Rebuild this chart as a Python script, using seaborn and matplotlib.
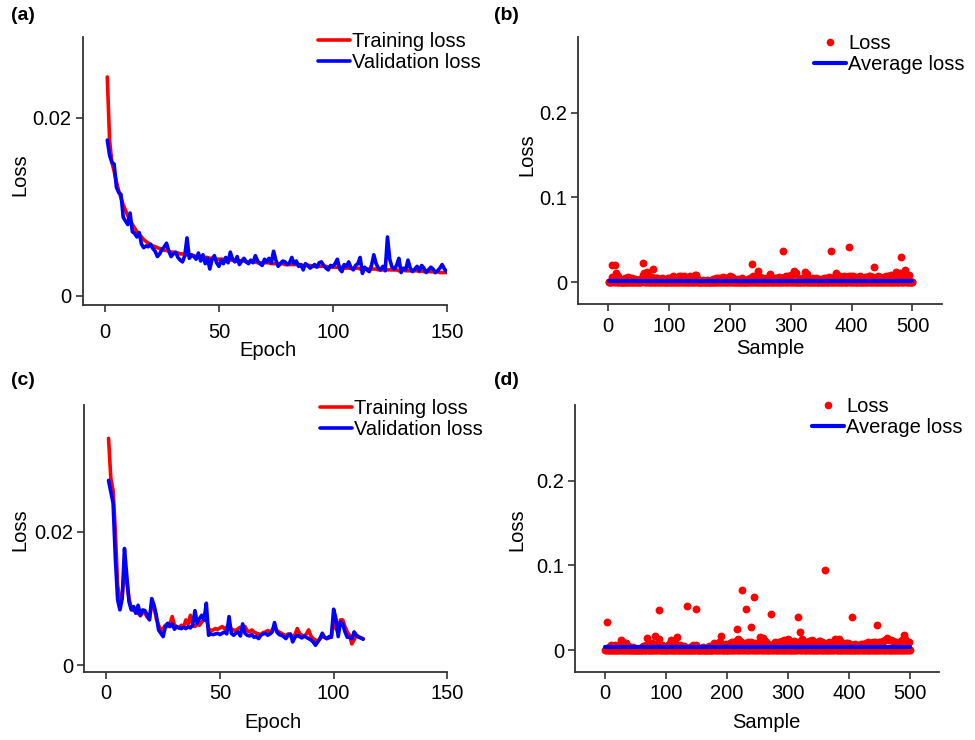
import numpy as np
import pandas as pd
import matplotlib
matplotlib.use("Agg")
import matplotlib.pyplot as plt
from matplotlib.lines import Line2D
import seaborn as sns

sns.set_theme(style="ticks")
plt.rcParams['font.family'] = ['Liberation Sans', 'DejaVu Sans']
plt.rcParams['text.color'] = 'black'
plt.rcParams['axes.labelcolor'] = 'black'

# ---------------- data ----------------
TRAIN_A = [
    0.0246, 0.0175, 0.0150, 0.0140, 0.0128, 0.0118, 0.0110, 0.0102, 0.0096, 0.0090,
    0.0084, 0.0080, 0.0076, 0.0072, 0.0069, 0.0066, 0.0063, 0.0061, 0.0059, 0.0057,
    0.0056, 0.0055, 0.0054, 0.0053, 0.0052, 0.0051, 0.0051, 0.0050, 0.0049, 0.0049,
    0.0048, 0.0048, 0.0047, 0.0047, 0.0046, 0.0046, 0.0046, 0.0045, 0.0045, 0.0044,
    0.0044, 0.0044, 0.0043, 0.0043, 0.0043, 0.0042, 0.0042, 0.0042, 0.0041, 0.0041,
    0.0041, 0.0041, 0.0040, 0.0040, 0.0040, 0.0040, 0.0039, 0.0039, 0.0039, 0.0039,
    0.0039, 0.0038, 0.0038, 0.0038, 0.0038, 0.0038, 0.0037, 0.0037, 0.0037, 0.0037,
    0.0037, 0.0037, 0.0036, 0.0036, 0.0036, 0.0036, 0.0036, 0.0036, 0.0035, 0.0035,
    0.0035, 0.0035, 0.0035, 0.0035, 0.0034, 0.0034, 0.0034, 0.0034, 0.0034, 0.0034,
    0.0033, 0.0033, 0.0033, 0.0033, 0.0033, 0.0033, 0.0033, 0.0032, 0.0032, 0.0032,
    0.0032, 0.0032, 0.0032, 0.0032, 0.0031, 0.0031, 0.0031, 0.0031, 0.0031, 0.0031,
    0.0031, 0.0030, 0.0030, 0.0030, 0.0030, 0.0030, 0.0030, 0.0030, 0.0030, 0.0029,
    0.0029, 0.0029, 0.0029, 0.0029, 0.0029, 0.0029, 0.0029, 0.0029, 0.0028, 0.0029,
    0.0029, 0.0028, 0.0028, 0.0028, 0.0028, 0.0028, 0.0028, 0.0027, 0.0028, 0.0027,
    0.0027, 0.0027, 0.0027, 0.0027, 0.0026, 0.0027, 0.0026, 0.0026, 0.0026, 0.0026,
]
VAL_A = [
    0.0175, 0.0158, 0.0150, 0.0148, 0.0122, 0.0116, 0.0114, 0.0088, 0.0084, 0.0080,
    0.0093, 0.0072, 0.0070, 0.0066, 0.0071, 0.0058, 0.0054, 0.0056, 0.0055, 0.0058,
    0.0053, 0.0050, 0.0044, 0.0047, 0.0052, 0.0055, 0.0059, 0.0050, 0.0044, 0.0047,
    0.0049, 0.0043, 0.0040, 0.0038, 0.0045, 0.0065, 0.0042, 0.0046, 0.0044, 0.0041,
    0.0048, 0.0039, 0.0046, 0.0036, 0.0042, 0.0030, 0.0041, 0.0045, 0.0037, 0.0033,
    0.0040, 0.0036, 0.0043, 0.0037, 0.0049, 0.0041, 0.0038, 0.0044, 0.0035, 0.0039,
    0.0042, 0.0038, 0.0036, 0.0040, 0.0037, 0.0045, 0.0039, 0.0036, 0.0034, 0.0041,
    0.0038, 0.0042, 0.0037, 0.0050, 0.0040, 0.0033, 0.0036, 0.0039, 0.0038, 0.0035,
    0.0037, 0.0043, 0.0036, 0.0039, 0.0033, 0.0035, 0.0029, 0.0036, 0.0034, 0.0031,
    0.0033, 0.0035, 0.0032, 0.0037, 0.0038, 0.0034, 0.0031, 0.0029, 0.0034, 0.0033,
    0.0036, 0.0041, 0.0030, 0.0027, 0.0035, 0.0033, 0.0038, 0.0031, 0.0029, 0.0034,
    0.0036, 0.0043, 0.0025, 0.0032, 0.0029, 0.0027, 0.0034, 0.0046, 0.0036, 0.0031,
    0.0029, 0.0033, 0.0028, 0.0066, 0.0041, 0.0032, 0.0030, 0.0034, 0.0042, 0.0026,
    0.0031, 0.0029, 0.0040, 0.0031, 0.0027, 0.0030, 0.0033, 0.0028, 0.0034, 0.0031,
    0.0026, 0.0029, 0.0032, 0.0030, 0.0026, 0.0028, 0.0031, 0.0035, 0.0030, 0.0027,
]
TRAIN_C = [
    0.0340, 0.0280, 0.0262, 0.0200, 0.0120, 0.0095, 0.0105, 0.0140, 0.0125, 0.0100,
    0.0085, 0.0082, 0.0085, 0.0078, 0.0074, 0.0080, 0.0078, 0.0072, 0.0070, 0.0092,
    0.0088, 0.0070, 0.0060, 0.0052, 0.0055, 0.0060, 0.0058, 0.0062, 0.0073, 0.0060,
    0.0058, 0.0056, 0.0060, 0.0057, 0.0068, 0.0062, 0.0075, 0.0060, 0.0058, 0.0062,
    0.0060, 0.0065, 0.0068, 0.0070, 0.0055, 0.0052, 0.0053, 0.0055, 0.0054, 0.0056,
    0.0058, 0.0055, 0.0057, 0.0062, 0.0054, 0.0053, 0.0052, 0.0055, 0.0057, 0.0056,
    0.0058, 0.0052, 0.0050, 0.0053, 0.0050, 0.0048, 0.0047, 0.0046, 0.0049, 0.0050,
    0.0052, 0.0050, 0.0053, 0.0058, 0.0052, 0.0050, 0.0048, 0.0046, 0.0044, 0.0047,
    0.0045, 0.0043, 0.0046, 0.0055, 0.0048, 0.0045, 0.0043, 0.0047, 0.0053, 0.0044,
    0.0040, 0.0038, 0.0036, 0.0040, 0.0043, 0.0042, 0.0040, 0.0041, 0.0043, 0.0070,
    0.0055, 0.0050, 0.0068, 0.0068, 0.0058, 0.0050, 0.0045, 0.0032, 0.0038, 0.0045,
    0.0043, 0.0041, 0.0040,
]
VAL_C = [
    0.0277, 0.0260, 0.0243, 0.0160, 0.0098, 0.0083, 0.0100, 0.0175, 0.0135, 0.0095,
    0.0083, 0.0088, 0.0078, 0.0090, 0.0075, 0.0083, 0.0082, 0.0075, 0.0068, 0.0100,
    0.0090, 0.0075, 0.0053, 0.0048, 0.0043, 0.0058, 0.0063, 0.0058, 0.0062, 0.0054,
    0.0058, 0.0056, 0.0055, 0.0057, 0.0055, 0.0058, 0.0056, 0.0060, 0.0082, 0.0063,
    0.0070, 0.0075, 0.0068, 0.0093, 0.0045, 0.0047, 0.0046, 0.0047, 0.0048, 0.0046,
    0.0048, 0.0050, 0.0047, 0.0073, 0.0048, 0.0045, 0.0048, 0.0050, 0.0044, 0.0062,
    0.0048, 0.0045, 0.0044, 0.0046, 0.0042, 0.0043, 0.0040, 0.0045, 0.0047, 0.0048,
    0.0045, 0.0047, 0.0050, 0.0064, 0.0050, 0.0046, 0.0045, 0.0043, 0.0040, 0.0045,
    0.0047, 0.0035, 0.0042, 0.0045, 0.0043, 0.0041, 0.0044, 0.0042, 0.0040, 0.0038,
    0.0035, 0.0030, 0.0035, 0.0040, 0.0048, 0.0042, 0.0040, 0.0043, 0.0042, 0.0084,
    0.0070, 0.0043, 0.0065, 0.0062, 0.0050, 0.0042, 0.0042, 0.0040, 0.0050, 0.0045,
    0.0042, 0.0041, 0.0039,
]

# per-sample loss, in units of 1e-4 (samples 1..500)
LOSS_B_E4 = [
    0, 2, 1, 5, 3, 60, 204, 40, 2, 1, 200, 30, 106, 8, 3, 70, 2, 1, 35, 4, 1, 0, 2, 5, 3,
    2, 1, 50, 3, 4, 1, 60, 2, 1, 0, 45, 3, 2, 55, 1, 2, 3, 0, 40, 2, 1, 30, 2, 3, 1,
    2, 35, 1, 3, 40, 2, 90, 224, 110, 3, 1, 0, 50, 125, 2, 3, 70, 1, 2, 4, 0, 60, 157, 2, 1,
    3, 2, 45, 1, 0, 55, 3, 2, 40, 1, 2, 3, 50, 1, 0, 2, 35, 4, 1, 2, 0, 3, 45, 2, 1,
    2, 55, 3, 1, 0, 70, 2, 3, 60, 1, 4, 2, 55, 1, 0, 80, 2, 3, 75, 1, 0, 50, 2, 3, 70,
    1, 2, 60, 3, 0, 45, 2, 1, 70, 3, 0, 2, 55, 1, 3, 4, 90, 2, 85, 1, 0, 40, 2, 1, 3,
    2, 1, 3, 0, 2, 30, 1, 3, 2, 0, 1, 25, 2, 3, 1, 0, 2, 3, 1, 0, 2, 40, 1, 3, 2,
    0, 45, 2, 1, 50, 3, 0, 55, 2, 1, 40, 3, 2, 60, 1, 0, 45, 2, 3, 50, 1, 0, 65, 2, 3,
    75, 1, 2, 60, 3, 0, 2, 40, 1, 3, 2, 0, 35, 1, 2, 3, 1, 0, 2, 45, 1, 3, 2, 0, 1,
    2, 3, 1, 40, 0, 2, 1, 50, 3, 2, 212, 1, 70, 2, 0, 3, 55, 1, 2, 4, 137, 2, 0, 60, 1,
    3, 2, 1, 0, 50, 2, 3, 1, 45, 0, 2, 1, 3, 55, 2, 94, 0, 1, 40, 3, 2, 1, 0, 50, 2,
    3, 1, 45, 2, 0, 60, 3, 1, 55, 2, 0, 369, 1, 65, 3, 2, 75, 1, 0, 70, 2, 3, 80, 1, 2,
    90, 0, 3, 100, 2, 133, 1, 110, 0, 2, 3, 1, 40, 2, 0, 3, 1, 2, 50, 3, 0, 2, 60, 125, 1,
    95, 2, 0, 3, 1, 2, 40, 3, 1, 0, 2, 50, 1, 3, 0, 2, 45, 1, 3, 2, 0, 1, 35, 2, 3,
    1, 0, 2, 45, 3, 1, 0, 55, 2, 1, 3, 0, 60, 2, 1, 369, 3, 0, 50, 2, 1, 3, 80, 0, 113,
    2, 1, 60, 3, 0, 70, 2, 1, 65, 3, 0, 2, 75, 1, 3, 0, 60, 2, 1, 80, 420, 1, 3, 70, 2,
    0, 75, 1, 3, 2, 65, 0, 1, 2, 60, 3, 1, 0, 70, 2, 1, 3, 55, 2, 0, 1, 60, 3, 2, 65,
    1, 0, 80, 2, 3, 70, 1, 0, 2, 65, 177, 3, 1, 0, 55, 2, 3, 1, 70, 0, 2, 60, 1, 3, 50,
    2, 0, 65, 3, 1, 70, 2, 0, 75, 1, 3, 80, 2, 0, 90, 1, 3, 70, 2, 0, 85, 1, 121, 3, 0,
    2, 70, 1, 3, 110, 302, 2, 0, 60, 1, 3, 80, 145, 2, 100, 0, 3, 1, 90, 2, 0, 1, 3, 2, 1,
]
LOSS_D_E4 = [
    0, 3, 2, 334, 1, 40, 2, 0, 3, 55, 1, 2, 0, 45, 3, 1, 60, 2, 0, 3, 50, 1, 2, 70, 3,
    118, 2, 0, 90, 3, 1, 60, 2, 0, 78, 3, 1, 50, 2, 0, 40, 3, 1, 2, 0, 35, 1, 3, 2, 0,
    2, 1, 3, 0, 2, 1, 30, 3, 0, 2, 1, 45, 3, 0, 2, 1, 60, 3, 138, 2, 0, 50, 1, 3, 2,
    0, 80, 2, 1, 3, 60, 165, 2, 0, 70, 3, 1, 470, 130, 2, 0, 3, 1, 55, 2, 0, 3, 1, 40, 2,
    1, 3, 0, 60, 2, 1, 80, 118, 3, 0, 2, 1, 100, 3, 2, 70, 0, 1, 153, 3, 2, 0, 60, 1, 3,
    2, 0, 1, 3, 50, 2, 1, 0, 518, 3, 2, 1, 0, 40, 2, 3, 1, 0, 55, 2, 3, 1, 0, 60, 487,
    2, 1, 3, 0, 2, 1, 30, 3, 0, 2, 40, 1, 3, 2, 0, 1, 3, 2, 0, 1, 45, 3, 2, 0, 1,
    3, 2, 60, 80, 1, 70, 3, 0, 65, 2, 1, 90, 3, 0, 85, 165, 2, 1, 0, 60, 3, 1, 70, 2, 0,
    1, 3, 60, 2, 0, 80, 1, 3, 90, 2, 70, 1, 100, 3, 110, 251, 2, 125, 1, 0, 3, 110, 2, 90, 706,
    1, 3, 60, 2, 80, 487, 1, 0, 90, 3, 2, 70, 1, 100, 275, 3, 60, 2, 624, 1, 80, 3, 0, 70, 2,
    1, 90, 3, 100, 153, 2, 0, 80, 3, 140, 1, 110, 2, 0, 90, 3, 1, 70, 2, 0, 60, 424, 3, 1, 50,
    2, 70, 1, 90, 3, 0, 80, 2, 1, 100, 3, 0, 90, 2, 110, 1, 3, 120, 2, 0, 100, 3, 1, 110, 2,
    125, 3, 0, 90, 2, 1, 100, 3, 0, 110, 2, 1, 90, 3, 0, 80, 388, 2, 100, 216, 1, 3, 130, 0, 110,
    2, 90, 1, 3, 100, 0, 2, 80, 1, 110, 3, 0, 90, 2, 118, 1, 3, 100, 0, 2, 80, 1, 3, 90, 2,
    0, 110, 110, 3, 1, 90, 2, 0, 80, 3, 941, 2, 1, 70, 3, 0, 94, 2, 1, 80, 3, 0, 70, 2, 90,
    1, 110, 133, 3, 0, 120, 2, 1, 133, 3, 0, 90, 2, 1, 80, 3, 0, 70, 2, 1, 80, 3, 86, 2, 0,
    1, 70, 3, 2, 392, 0, 60, 1, 3, 70, 2, 0, 60, 1, 3, 50, 2, 1, 60, 75, 3, 0, 70, 2, 1,
    60, 3, 0, 80, 2, 1, 90, 3, 0, 70, 2, 1, 80, 3, 94, 0, 2, 90, 1, 3, 294, 2, 0, 100, 1,
    3, 90, 2, 75, 1, 110, 0, 3, 120, 2, 1, 130, 138, 0, 3, 120, 2, 1, 118, 3, 0, 110, 2, 100, 1,
    3, 90, 0, 2, 86, 1, 100, 3, 0, 110, 2, 1, 120, 3, 176, 0, 2, 130, 106, 1, 3, 100, 2, 90, 1,
]
AVG_LOSS_B = 0.0019
AVG_LOSS_D = 0.0035

LINE_LABELS = ["Training loss", "Validation loss"]
SCAT_LABELS = ["Loss", "Average loss"]
PANEL_LABELS = ["(a)", "(b)", "(c)", "(d)"]

# ---------------- frames ----------------
def curve_frame(train, val):
    ep = np.arange(1, len(train) + 1)
    return pd.DataFrame({
        "Epoch": np.concatenate([ep, ep]),
        "Loss": np.concatenate([train, val]),
        "kind": [LINE_LABELS[0]] * len(train) + [LINE_LABELS[1]] * len(val),
    })

df_a = curve_frame(TRAIN_A, VAL_A)
df_c = curve_frame(TRAIN_C, VAL_C)
samples = np.arange(1, 501)
df_b = pd.DataFrame({"Sample": samples, "Loss": np.array(LOSS_B_E4) * 1e-4})
df_d = pd.DataFrame({"Sample": samples, "Loss": np.array(LOSS_D_E4) * 1e-4})
avg_b = pd.DataFrame({"Sample": samples, "Loss": np.full(500, AVG_LOSS_B)})
avg_d = pd.DataFrame({"Sample": samples, "Loss": np.full(500, AVG_LOSS_D)})

RED = "#ff0000"
BLUE = "#0000ff"
SPINE = "#333333"
FS = 14.5

W, H = 975, 740
fig = plt.figure(figsize=(W / 100, H / 100), dpi=100)

def frac(l, t, r, b):
    return [l / W, 1 - b / H, (r - l) / W, (b - t) / H]

ax_a = fig.add_axes(frac(82.7, 37, 446.7, 305))
ax_b = fig.add_axes(frac(578.3, 36.7, 941.7, 304))
ax_c = fig.add_axes(frac(84, 405, 447.3, 671.7))
ax_d = fig.add_axes(frac(575, 405, 939, 671.7))

pal = {LINE_LABELS[0]: RED, LINE_LABELS[1]: BLUE}
for ax, df in ((ax_a, df_a), (ax_c, df_c)):
    sns.lineplot(data=df, x="Epoch", y="Loss", hue="kind", palette=pal,
                 linewidth=2.6, ax=ax, legend=False)
    ax.set_xlim(-9.8, 150)
    ax.set_xticks([0, 50, 100, 150])
    ax.set_xticklabels(["0", "50", "100", "150"])
    ax.set_yticks([0, 0.02])
    ax.set_yticklabels(["0", "0.02"])
ax_a.set_ylim(-0.00105, 0.0291)
ax_c.set_ylim(-0.00096, 0.039)

for ax, df, av in ((ax_b, df_b, avg_b), (ax_d, df_d, avg_d)):
    sns.scatterplot(data=df, x="Sample", y="Loss", color=RED, s=32,
                    linewidth=0, ax=ax, zorder=2, legend=False)
    sns.lineplot(data=av, x="Sample", y="Loss", color=BLUE, linewidth=3,
                 ax=ax, zorder=3, legend=False)
    ax.set_xlim(-49, 548)
    ax.set_xticks([0, 100, 200, 300, 400, 500])
    ax.set_xticklabels(["0", "100", "200", "300", "400", "500"])
    ax.set_yticks([0, 0.1, 0.2])
    ax.set_yticklabels(["0", "0.1", "0.2"])
    ax.set_ylim(-0.0256, 0.2896)

for ax in (ax_a, ax_b, ax_c, ax_d):
    sns.despine(ax=ax)
    for s in ("left", "bottom"):
        ax.spines[s].set_color(SPINE)
        ax.spines[s].set_linewidth(1.3)
    ax.tick_params(axis="both", direction="out", length=5, width=1.2,
                   color=SPINE, labelsize=FS, labelcolor="black")
    ax.tick_params(axis="y", pad=3)
    ax.set_facecolor("white")

ax_a.tick_params(axis="x", pad=8)
ax_b.tick_params(axis="x", pad=4)
ax_c.tick_params(axis="x", pad=4)
ax_d.tick_params(axis="x", pad=4)

# axis labels
xlab = {ax_a: ("Epoch", 0.509, -0.168), ax_b: ("Sample", 0.528, -0.165),
        ax_c: ("Epoch", 0.52, -0.189), ax_d: ("Sample", 0.527, -0.189)}
ylab = {ax_a: (-0.172, 0.485), ax_b: (-0.141, 0.557),
        ax_c: (-0.176, 0.531), ax_d: (-0.159, 0.531)}
for ax, (txt, x, y) in xlab.items():
    ax.set_xlabel(txt, fontsize=FS, color="black")
    ax.xaxis.label.set_verticalalignment("center")
    ax.xaxis.set_label_coords(x, y)
for ax, (x, y) in ylab.items():
    ax.set_ylabel("Loss", fontsize=FS, color="black")
    ax.yaxis.label.set_verticalalignment("center")
    ax.yaxis.set_label_coords(x, y)

# legends
def line_handles():
    return [Line2D([], [], color=RED, lw=2.6), Line2D([], [], color=BLUE, lw=2.6)]

def scat_handles():
    return [Line2D([], [], color=RED, marker="o", ls="none", markersize=5.5,
                   markeredgewidth=0),
            Line2D([], [], color=BLUE, lw=3)]

leg_kw = dict(loc="upper left", frameon=False, fontsize=FS, handlelength=1.6,
              handletextpad=0.1, labelspacing=0.08, borderpad=0,
              borderaxespad=0, bbox_transform=fig.transFigure)
ax_a.legend(line_handles(), LINE_LABELS, bbox_to_anchor=(318 / W, 1 - 32 / H), **leg_kw)
ax_c.legend(line_handles(), LINE_LABELS, bbox_to_anchor=(320 / W, 1 - 399 / H), **leg_kw)
ax_b.legend(scat_handles(), SCAT_LABELS, bbox_to_anchor=(814 / W, 1 - 34 / H), **leg_kw)
ax_d.legend(scat_handles(), SCAT_LABELS, bbox_to_anchor=(812 / W, 1 - 397 / H), **leg_kw)

# panel labels
for lab, (x, y) in zip(PANEL_LABELS, [(11, 16), (494, 16), (11, 381), (494, 381)]):
    fig.text(x / W, 1 - y / H, lab, ha="left", va="center", fontsize=14,
             fontweight="bold", color="black")

fig.savefig("out.png", dpi=100, facecolor="white")
